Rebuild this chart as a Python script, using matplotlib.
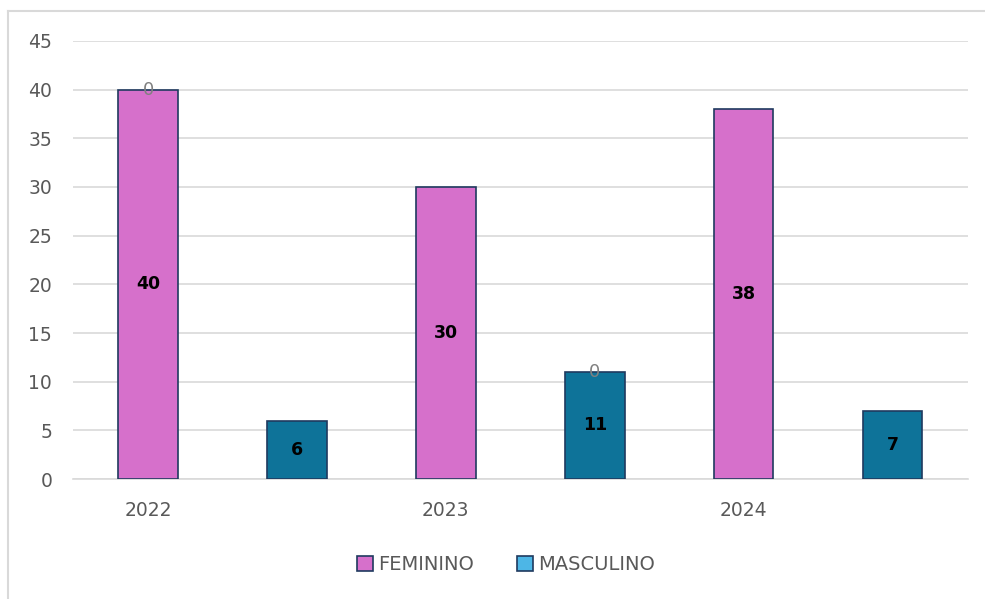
import matplotlib.pyplot as plt
from matplotlib.lines import Line2D
from matplotlib.patches import Patch

years = ['2022', '2023', '2024']
feminino = [40, 30, 38]
masculino = [6, 11, 7]
series_names = ['FEMININO', 'MASCULINO']

pink = '#D670CB'
teal = '#0E7399'
legend_blue = '#4DB6E6'
edge = '#1F3A5F'
grey_txt = '#595959'

plt.rcParams['font.family'] = ['DejaVu Sans']

fig = plt.figure(figsize=(9.85, 5.99), dpi=100)
ax = fig.add_axes([0.0741, 0.2003, 0.9086, 0.7313])

x = list(range(len(years)))
xm = [i + 0.5 for i in x]
w = 0.2
b1 = ax.bar(x, feminino, width=w, color=pink, edgecolor=edge, linewidth=1.2, zorder=3)
b2 = ax.bar(xm, masculino, width=w, color=teal, edgecolor=edge, linewidth=1.2, zorder=3)

ax.bar_label(b1, labels=[str(v) for v in feminino], label_type='center',
             fontsize=12.5, fontweight='bold', color='black')
ax.bar_label(b2, labels=[str(v) for v in masculino], label_type='center',
             fontsize=12.5, fontweight='bold', color='black')

# the stray "0" labels sitting on top of two bars
ax.text(x[0], feminino[0], '0', ha='center', va='center', color='#808080', fontsize=13, zorder=4)
ax.text(xm[1], masculino[1], '0', ha='center', va='center', color='#808080', fontsize=13, zorder=4)

ax.set_xlim(-0.252, 2.753)
ax.set_ylim(0, 45)
ax.set_yticks(range(0, 46, 5))
ax.set_xticks(x)
ax.set_xticklabels(years)
ax.yaxis.grid(True, color='#D9D9D9', linewidth=1.2, zorder=0)
ax.set_axisbelow(True)
for s in ['top', 'right', 'left']:
    ax.spines[s].set_visible(False)
ax.spines['bottom'].set_color('#D9D9D9')
ax.spines['bottom'].set_linewidth(1.2)
ax.tick_params(axis='both', length=0, labelsize=13.5, colors=grey_txt)
ax.tick_params(axis='x', pad=16)
ax.tick_params(axis='y', pad=15)

handles = [Patch(facecolor=pink, edgecolor=edge, linewidth=1.2),
           Patch(facecolor=legend_blue, edgecolor=edge, linewidth=1.2)]
fig.legend(handles, series_names, loc='center', bbox_to_anchor=(0.514, 0.057),
           ncol=2, frameon=False, fontsize=14, labelcolor=grey_txt,
           handlelength=0.8, handleheight=0.8, handletextpad=0.3, columnspacing=2.2)

# outer frame (top and left edges visible)
fig.add_artist(Line2D([8 / 985, 1], [1 - 11 / 599, 1 - 11 / 599], color='#D9D9D9', linewidth=1.5))
fig.add_artist(Line2D([8 / 985, 8 / 985], [0, 1 - 11 / 599], color='#D9D9D9', linewidth=1.5))

fig.savefig('out.png', dpi=100)
